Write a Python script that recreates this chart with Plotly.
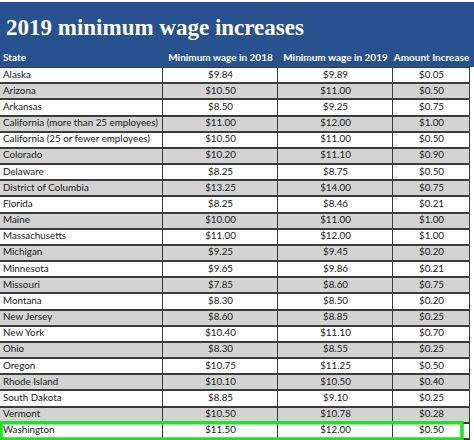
import plotly.graph_objects as go

title = "2019 minimum wage increases"
headers = ["State", "Minimum wage in 2018", "Minimum wage in 2019", "Amount Increase"]
states = ["Alaska", "Arizona", "Arkansas", "California (more than 25 employees)",
          "California (25 or fewer employees)", "Colorado", "Delaware", "District of Columbia",
          "Florida", "Maine", "Massachusetts", "Michigan", "Minnesota", "Missouri", "Montana",
          "New Jersey", "New York", "Ohio", "Oregon", "Rhode Island", "South Dakota", "Vermont",
          "Washington"]
wage_2018 = [9.84, 10.50, 8.50, 11.00, 10.50, 10.20, 8.25, 13.25, 8.25, 10.00, 11.00, 9.25,
             9.65, 7.85, 8.30, 8.60, 10.40, 8.30, 10.75, 10.10, 8.85, 10.50, 11.50]
wage_2019 = [9.89, 11.00, 9.25, 12.00, 11.00, 11.10, 8.75, 14.00, 8.46, 11.00, 12.00, 9.45,
             9.86, 8.60, 8.50, 8.85, 11.10, 8.55, 11.25, 10.50, 9.10, 10.78, 12.00]
increase = [0.05, 0.50, 0.75, 1.00, 0.50, 0.90, 0.50, 0.75, 0.21, 1.00, 1.00, 0.20,
            0.21, 0.75, 0.20, 0.25, 0.70, 0.25, 0.50, 0.40, 0.25, 0.28, 0.50]
highlight = "Washington"

# ---- layout constants (pixels) ----
W, H = 474, 440
BLUE = "#27518f"
GRAY = "#d3d3d3"
TABLE_TOP = 50
TABLE_W = 470
HEADER_H = 17
ROW_H = 16.17
COL_EDGES = [0, 163, 278, 393, 470]

fmt = lambda v: f"${v:,.2f}"
n = len(states)
columns = [states, [fmt(v) for v in wage_2018], [fmt(v) for v in wage_2019],
           [fmt(v) for v in increase]]

y_edges = [0, HEADER_H] + [HEADER_H + ROW_H * (i + 1) for i in range(n)]
y_mid = [(y_edges[i] + y_edges[i + 1]) / 2 for i in range(n + 1)]
col_mid = [(COL_EDGES[j] + COL_EDGES[j + 1]) / 2 for j in range(4)]

# z: 2 = header, 0 = white row, 1 = gray row
z = [[2] * 4] + [[i % 2] * 4 for i in range(n)]

fig = go.Figure()
fig.add_shape(type="rect", xref="paper", yref="paper", x0=0, x1=1,
              y0=1 - (TABLE_TOP + HEADER_H) / H, y1=1 - 2 / H,
              fillcolor=BLUE, line=dict(width=0), layer="below")

fig.add_trace(go.Heatmap(
    x=COL_EDGES, y=y_edges, z=z, zmin=0, zmax=2,
    colorscale=[[0, "#ffffff"], [0.5, GRAY], [1, BLUE]],
    showscale=False, xgap=1, ygap=2, hoverinfo="skip"))

# header texts
fig.add_trace(go.Scatter(
    x=[3] + col_mid[1:], y=[y_mid[0]] * 4, mode="text",
    text=[f"<b>{h}</b>" for h in headers],
    textposition=["middle right", "middle center", "middle center", "middle center"],
    textfont=dict(family="Lato", size=10, color="white"), hoverinfo="skip"))

# body texts
for j, col in enumerate(columns):
    fig.add_trace(go.Scatter(
        x=[3 if j == 0 else col_mid[j]] * n, y=y_mid[1:], mode="text", text=col,
        textposition="middle right" if j == 0 else "middle center",
        textfont=dict(family="Lato", size=9.8, color="#1a1a1a"), hoverinfo="skip"))

fig.add_annotation(text=f"<b>{title}</b>", xref="paper", yref="paper", x=4 / W, y=1 - 28 / H,
                   xanchor="left", yanchor="middle", showarrow=False,
                   font=dict(family="Liberation Serif", size=23, color="white"))

idx = states.index(highlight)
fig.add_shape(type="rect", xref="x", yref="y", x0=1, x1=462,
              y0=y_edges[idx + 1], y1=y_edges[idx + 2],
              line=dict(color="#19e619", width=3.5), layer="above")

fig.update_xaxes(range=[0, TABLE_W], visible=False, fixedrange=True)
fig.update_yaxes(range=[H - TABLE_TOP, 0], visible=False, fixedrange=True)
fig.update_layout(width=W, height=H, margin=dict(l=0, r=0, t=0, b=0),
                  xaxis=dict(domain=[0, TABLE_W / W]),
                  yaxis=dict(domain=[0, 1 - TABLE_TOP / H]),
                  paper_bgcolor="white", plot_bgcolor="#3c3c3c", showlegend=False)
fig.write_html("out.html", config={"displayModeBar": False},
               post_script="document.body.style.margin='0';")
